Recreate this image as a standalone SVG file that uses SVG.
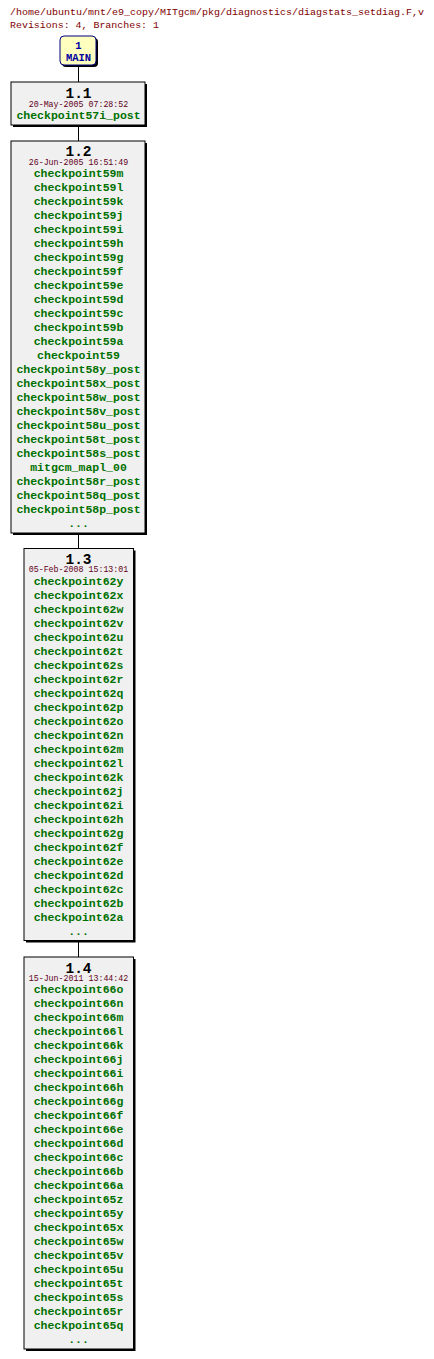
<svg xmlns="http://www.w3.org/2000/svg" width="434" height="1359" viewBox="0 0 434 1359">
<style>
.hdr{font-family:"Liberation Mono","DejaVu Sans Mono",monospace;font-size:9.9px;fill:#800000}
.box{fill:#f0f0f0;stroke:#000;stroke-width:1}
.shd{fill:#000}
.rev{font-family:"Liberation Mono","DejaVu Sans Mono",monospace;font-size:14.5px;font-weight:bold;fill:#000;text-anchor:middle}
.date{font-family:"Liberation Mono","DejaVu Sans Mono",monospace;font-size:8.3px;fill:#600020;text-anchor:middle}
.tag{font-family:"Liberation Mono","DejaVu Sans Mono",monospace;font-size:11.5px;font-weight:bold;fill:#007000;text-anchor:middle}
.main{font-family:"Liberation Mono","DejaVu Sans Mono",monospace;font-size:10.5px;font-weight:bold;fill:#0000a0;text-anchor:middle}
.conn{stroke:#000;stroke-width:1;fill:none}
</style>
<rect width="434" height="1359" fill="#fff"/>
<text class="hdr" x="10" y="15" textLength="414" lengthAdjust="spacingAndGlyphs">/home/ubuntu/mnt/e9_copy/MITgcm/pkg/diagnostics/diagstats_setdiag.F,v</text>
<text class="hdr" x="10" y="27.5" textLength="149" lengthAdjust="spacingAndGlyphs">Revisions: 4, Branches: 1</text>
<g id="connectors">
<line class="conn" x1="78.5" y1="66" x2="78.5" y2="82"/>
<line class="conn" x1="78.5" y1="125" x2="78.5" y2="141"/>
<line class="conn" x1="78.5" y1="533" x2="78.5" y2="548.5"/>
<line class="conn" x1="78.5" y1="941" x2="78.5" y2="957"/>
</g>
<g id="node-main">
<rect x="62" y="38" width="36" height="29" rx="4" fill="#000"/>
<rect x="60" y="36" width="36" height="29" rx="4" fill="#ffffc0" stroke="#000080" stroke-width="1"/>
<text class="main" x="78.5" y="49">1</text>
<text class="main" x="78.5" y="61">MAIN</text>
</g>
<g id="node-1.1">
<rect class="shd" x="13" y="84" width="134" height="43"/>
<rect class="box" x="11" y="82" width="134" height="43"/>
<text class="rev" x="78.5" y="98">1.1</text>
<text class="date" x="78.5" y="106.7">20-May-2005 07:28:52</text>
<text class="tag" x="78.5" y="119.3">checkpoint57i_post</text>
</g>
<g id="node-1.2">
<rect class="shd" x="13" y="143" width="134" height="392"/>
<rect class="box" x="11" y="141" width="134" height="392"/>
<text class="rev" x="78.5" y="156">1.2</text>
<text class="date" x="78.5" y="164.8">26-Jun-2005 16:51:49</text>
<text class="tag" y="177"><tspan x="78.5">checkpoint59m</tspan><tspan x="78.5" dy="14">checkpoint59l</tspan><tspan x="78.5" dy="14">checkpoint59k</tspan><tspan x="78.5" dy="14">checkpoint59j</tspan><tspan x="78.5" dy="14">checkpoint59i</tspan><tspan x="78.5" dy="14">checkpoint59h</tspan><tspan x="78.5" dy="14">checkpoint59g</tspan><tspan x="78.5" dy="14">checkpoint59f</tspan><tspan x="78.5" dy="14">checkpoint59e</tspan><tspan x="78.5" dy="14">checkpoint59d</tspan><tspan x="78.5" dy="14">checkpoint59c</tspan><tspan x="78.5" dy="14">checkpoint59b</tspan><tspan x="78.5" dy="14">checkpoint59a</tspan><tspan x="78.5" dy="14">checkpoint59</tspan><tspan x="78.5" dy="14">checkpoint58y_post</tspan><tspan x="78.5" dy="14">checkpoint58x_post</tspan><tspan x="78.5" dy="14">checkpoint58w_post</tspan><tspan x="78.5" dy="14">checkpoint58v_post</tspan><tspan x="78.5" dy="14">checkpoint58u_post</tspan><tspan x="78.5" dy="14">checkpoint58t_post</tspan><tspan x="78.5" dy="14">checkpoint58s_post</tspan><tspan x="78.5" dy="14">mitgcm_mapl_00</tspan><tspan x="78.5" dy="14">checkpoint58r_post</tspan><tspan x="78.5" dy="14">checkpoint58q_post</tspan><tspan x="78.5" dy="14">checkpoint58p_post</tspan><tspan x="78.5" dy="14">...</tspan></text>
</g>
<g id="node-1.3">
<rect class="shd" x="26" y="550.5" width="109.5" height="392"/>
<rect class="box" x="24" y="548.5" width="109.5" height="392"/>
<text class="rev" x="78.5" y="564">1.3</text>
<text class="date" x="78.5" y="572.3">05-Feb-2008 15:13:01</text>
<text class="tag" y="584.5"><tspan x="78.5">checkpoint62y</tspan><tspan x="78.5" dy="14">checkpoint62x</tspan><tspan x="78.5" dy="14">checkpoint62w</tspan><tspan x="78.5" dy="14">checkpoint62v</tspan><tspan x="78.5" dy="14">checkpoint62u</tspan><tspan x="78.5" dy="14">checkpoint62t</tspan><tspan x="78.5" dy="14">checkpoint62s</tspan><tspan x="78.5" dy="14">checkpoint62r</tspan><tspan x="78.5" dy="14">checkpoint62q</tspan><tspan x="78.5" dy="14">checkpoint62p</tspan><tspan x="78.5" dy="14">checkpoint62o</tspan><tspan x="78.5" dy="14">checkpoint62n</tspan><tspan x="78.5" dy="14">checkpoint62m</tspan><tspan x="78.5" dy="14">checkpoint62l</tspan><tspan x="78.5" dy="14">checkpoint62k</tspan><tspan x="78.5" dy="14">checkpoint62j</tspan><tspan x="78.5" dy="14">checkpoint62i</tspan><tspan x="78.5" dy="14">checkpoint62h</tspan><tspan x="78.5" dy="14">checkpoint62g</tspan><tspan x="78.5" dy="14">checkpoint62f</tspan><tspan x="78.5" dy="14">checkpoint62e</tspan><tspan x="78.5" dy="14">checkpoint62d</tspan><tspan x="78.5" dy="14">checkpoint62c</tspan><tspan x="78.5" dy="14">checkpoint62b</tspan><tspan x="78.5" dy="14">checkpoint62a</tspan><tspan x="78.5" dy="14">...</tspan></text>
</g>
<g id="node-1.4">
<rect class="shd" x="26" y="959" width="109.5" height="392"/>
<rect class="box" x="24" y="957" width="109.5" height="392"/>
<text class="rev" x="78.5" y="972.5">1.4</text>
<text class="date" x="78.5" y="980.8">15-Jun-2011 13:44:42</text>
<text class="tag" y="993"><tspan x="78.5">checkpoint66o</tspan><tspan x="78.5" dy="14">checkpoint66n</tspan><tspan x="78.5" dy="14">checkpoint66m</tspan><tspan x="78.5" dy="14">checkpoint66l</tspan><tspan x="78.5" dy="14">checkpoint66k</tspan><tspan x="78.5" dy="14">checkpoint66j</tspan><tspan x="78.5" dy="14">checkpoint66i</tspan><tspan x="78.5" dy="14">checkpoint66h</tspan><tspan x="78.5" dy="14">checkpoint66g</tspan><tspan x="78.5" dy="14">checkpoint66f</tspan><tspan x="78.5" dy="14">checkpoint66e</tspan><tspan x="78.5" dy="14">checkpoint66d</tspan><tspan x="78.5" dy="14">checkpoint66c</tspan><tspan x="78.5" dy="14">checkpoint66b</tspan><tspan x="78.5" dy="14">checkpoint66a</tspan><tspan x="78.5" dy="14">checkpoint65z</tspan><tspan x="78.5" dy="14">checkpoint65y</tspan><tspan x="78.5" dy="14">checkpoint65x</tspan><tspan x="78.5" dy="14">checkpoint65w</tspan><tspan x="78.5" dy="14">checkpoint65v</tspan><tspan x="78.5" dy="14">checkpoint65u</tspan><tspan x="78.5" dy="14">checkpoint65t</tspan><tspan x="78.5" dy="14">checkpoint65s</tspan><tspan x="78.5" dy="14">checkpoint65r</tspan><tspan x="78.5" dy="14">checkpoint65q</tspan><tspan x="78.5" dy="14">...</tspan></text>
</g>
</svg>
